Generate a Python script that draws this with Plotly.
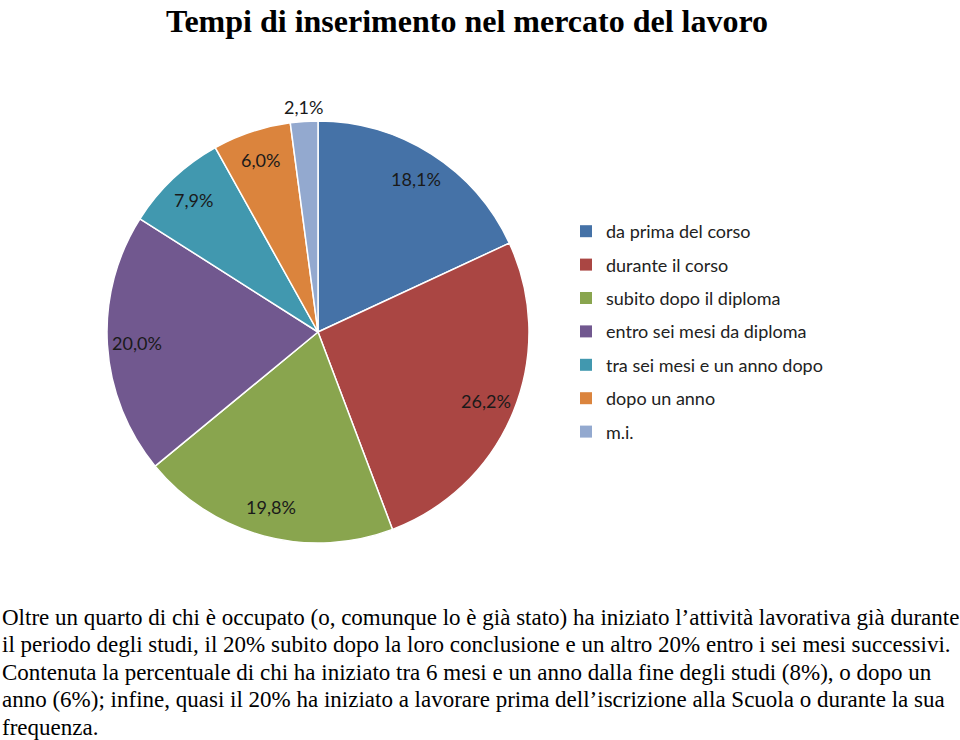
"""Tempi di inserimento nel mercato del lavoro - pie chart."""

import math

import plotly.graph_objects as go

CATEGORIE = [
    "da prima del corso",
    "durante il corso",
    "subito dopo il diploma",
    "entro sei mesi da diploma",
    "tra sei mesi e un anno dopo",
    "dopo un anno",
    "m.i.",
]
PERCENTUALI = [18.1, 26.2, 19.8, 20.0, 7.9, 6.0, 2.1]
COLORI = ["#4572A7", "#AA4643", "#89A54E", "#71588F", "#4198AF", "#DB843D", "#93A9CF"]
ETICHETTA_FUORI = [False, False, False, False, False, False, True]

TITOLO = "Tempi di inserimento nel mercato del lavoro"
RIGHE_TESTO = [
    "Oltre un quarto di chi è occupato (o, comunque lo è già stato) ha iniziato l’attività lavorativa già durante",
    "il periodo degli studi, il 20% subito dopo la loro conclusione e un altro 20% entro i sei mesi successivi.",
    "Contenuta la percentuale di chi ha iniziato tra 6 mesi e un anno dalla fine degli studi (8%), o dopo un",
    "anno (6%); infine, quasi il 20% ha iniziato a lavorare prima dell’iscrizione alla Scuola o durante la sua",
    "frequenza.",
]

W, H = 960, 740
SERIF = "Liberation Serif, Times New Roman, serif"
SANS = "Lato, Open Sans, sans-serif"

# pie geometry in pixels
CX, CY, R = 318, 332, 211

fig = go.Figure()
fig.add_trace(
    go.Pie(
        labels=CATEGORIE,
        values=PERCENTUALI,
        textinfo="none",
        marker=dict(colors=COLORI, line=dict(color="white", width=1.5)),
        sort=False,
        direction="clockwise",
        rotation=0,
        showlegend=False,
        hoverinfo="label+percent",
        domain=dict(x=[(CX - R) / W, (CX + R) / W], y=[(H - CY - R) / H, (H - CY + R) / H]),
    )
)

# Excel-style data labels, placed near the rim of each slice
totale = sum(PERCENTUALI)
cumulato = 0.0
for v, fuori in zip(PERCENTUALI, ETICHETTA_FUORI):
    frazione = (cumulato + v / 2) / totale
    cumulato += v
    ang = math.radians(90 - 360 * frazione)
    r = R * (1.07 if fuori else 0.86)
    fig.add_annotation(
        text=f"{v:.1f}%".replace(".", ","),
        xref="paper", yref="paper",
        x=(CX + r * math.cos(ang)) / W,
        y=(H - CY + r * math.sin(ang)) / H,
        xanchor="center", yanchor="middle", showarrow=False,
        font=dict(family=SANS, size=18, color="#1a1a1a"),
    )

# legend entries (pie legend spacing cannot be widened)
for cat, col in zip(CATEGORIE, COLORI):
    fig.add_trace(
        go.Scatter(
            x=[None],
            y=[None],
            mode="markers",
            name=cat,
            legendgroup=cat,
            marker=dict(symbol="square", size=12, color=col),
            hoverinfo="skip",
        )
    )

fig.add_annotation(
    text=f"<b>{TITOLO}</b>",
    xref="paper", yref="paper", x=467 / W, y=1 - 1 / H,
    xanchor="center", yanchor="top", showarrow=False,
    font=dict(family=SERIF, size=32, color="black"),
)

for i, riga in enumerate(RIGHE_TESTO):
    fig.add_annotation(
        text=riga,
        xref="paper", yref="paper", x=0, y=1 - (617 + 27.5 * i) / H,
        xanchor="left", yanchor="middle", showarrow=False,
        font=dict(family=SERIF, size=23, color="black"),
    )

fig.update_layout(
    width=W,
    height=H,
    margin=dict(l=0, r=0, t=0, b=0),
    paper_bgcolor="white",
    plot_bgcolor="white",
    xaxis=dict(visible=False),
    yaxis=dict(visible=False),
    legend=dict(
        x=566 / W, y=1 - 213 / H, xanchor="left", yanchor="top",
        font=dict(family=SANS, size=18, color="#222222"),
        tracegroupgap=7,
        itemwidth=30,
        bgcolor="rgba(0,0,0,0)",
    ),
)

fig.write_html(
    "out.html",
    config={"displayModeBar": False},
    post_script="document.body.style.margin = '0';",
)
